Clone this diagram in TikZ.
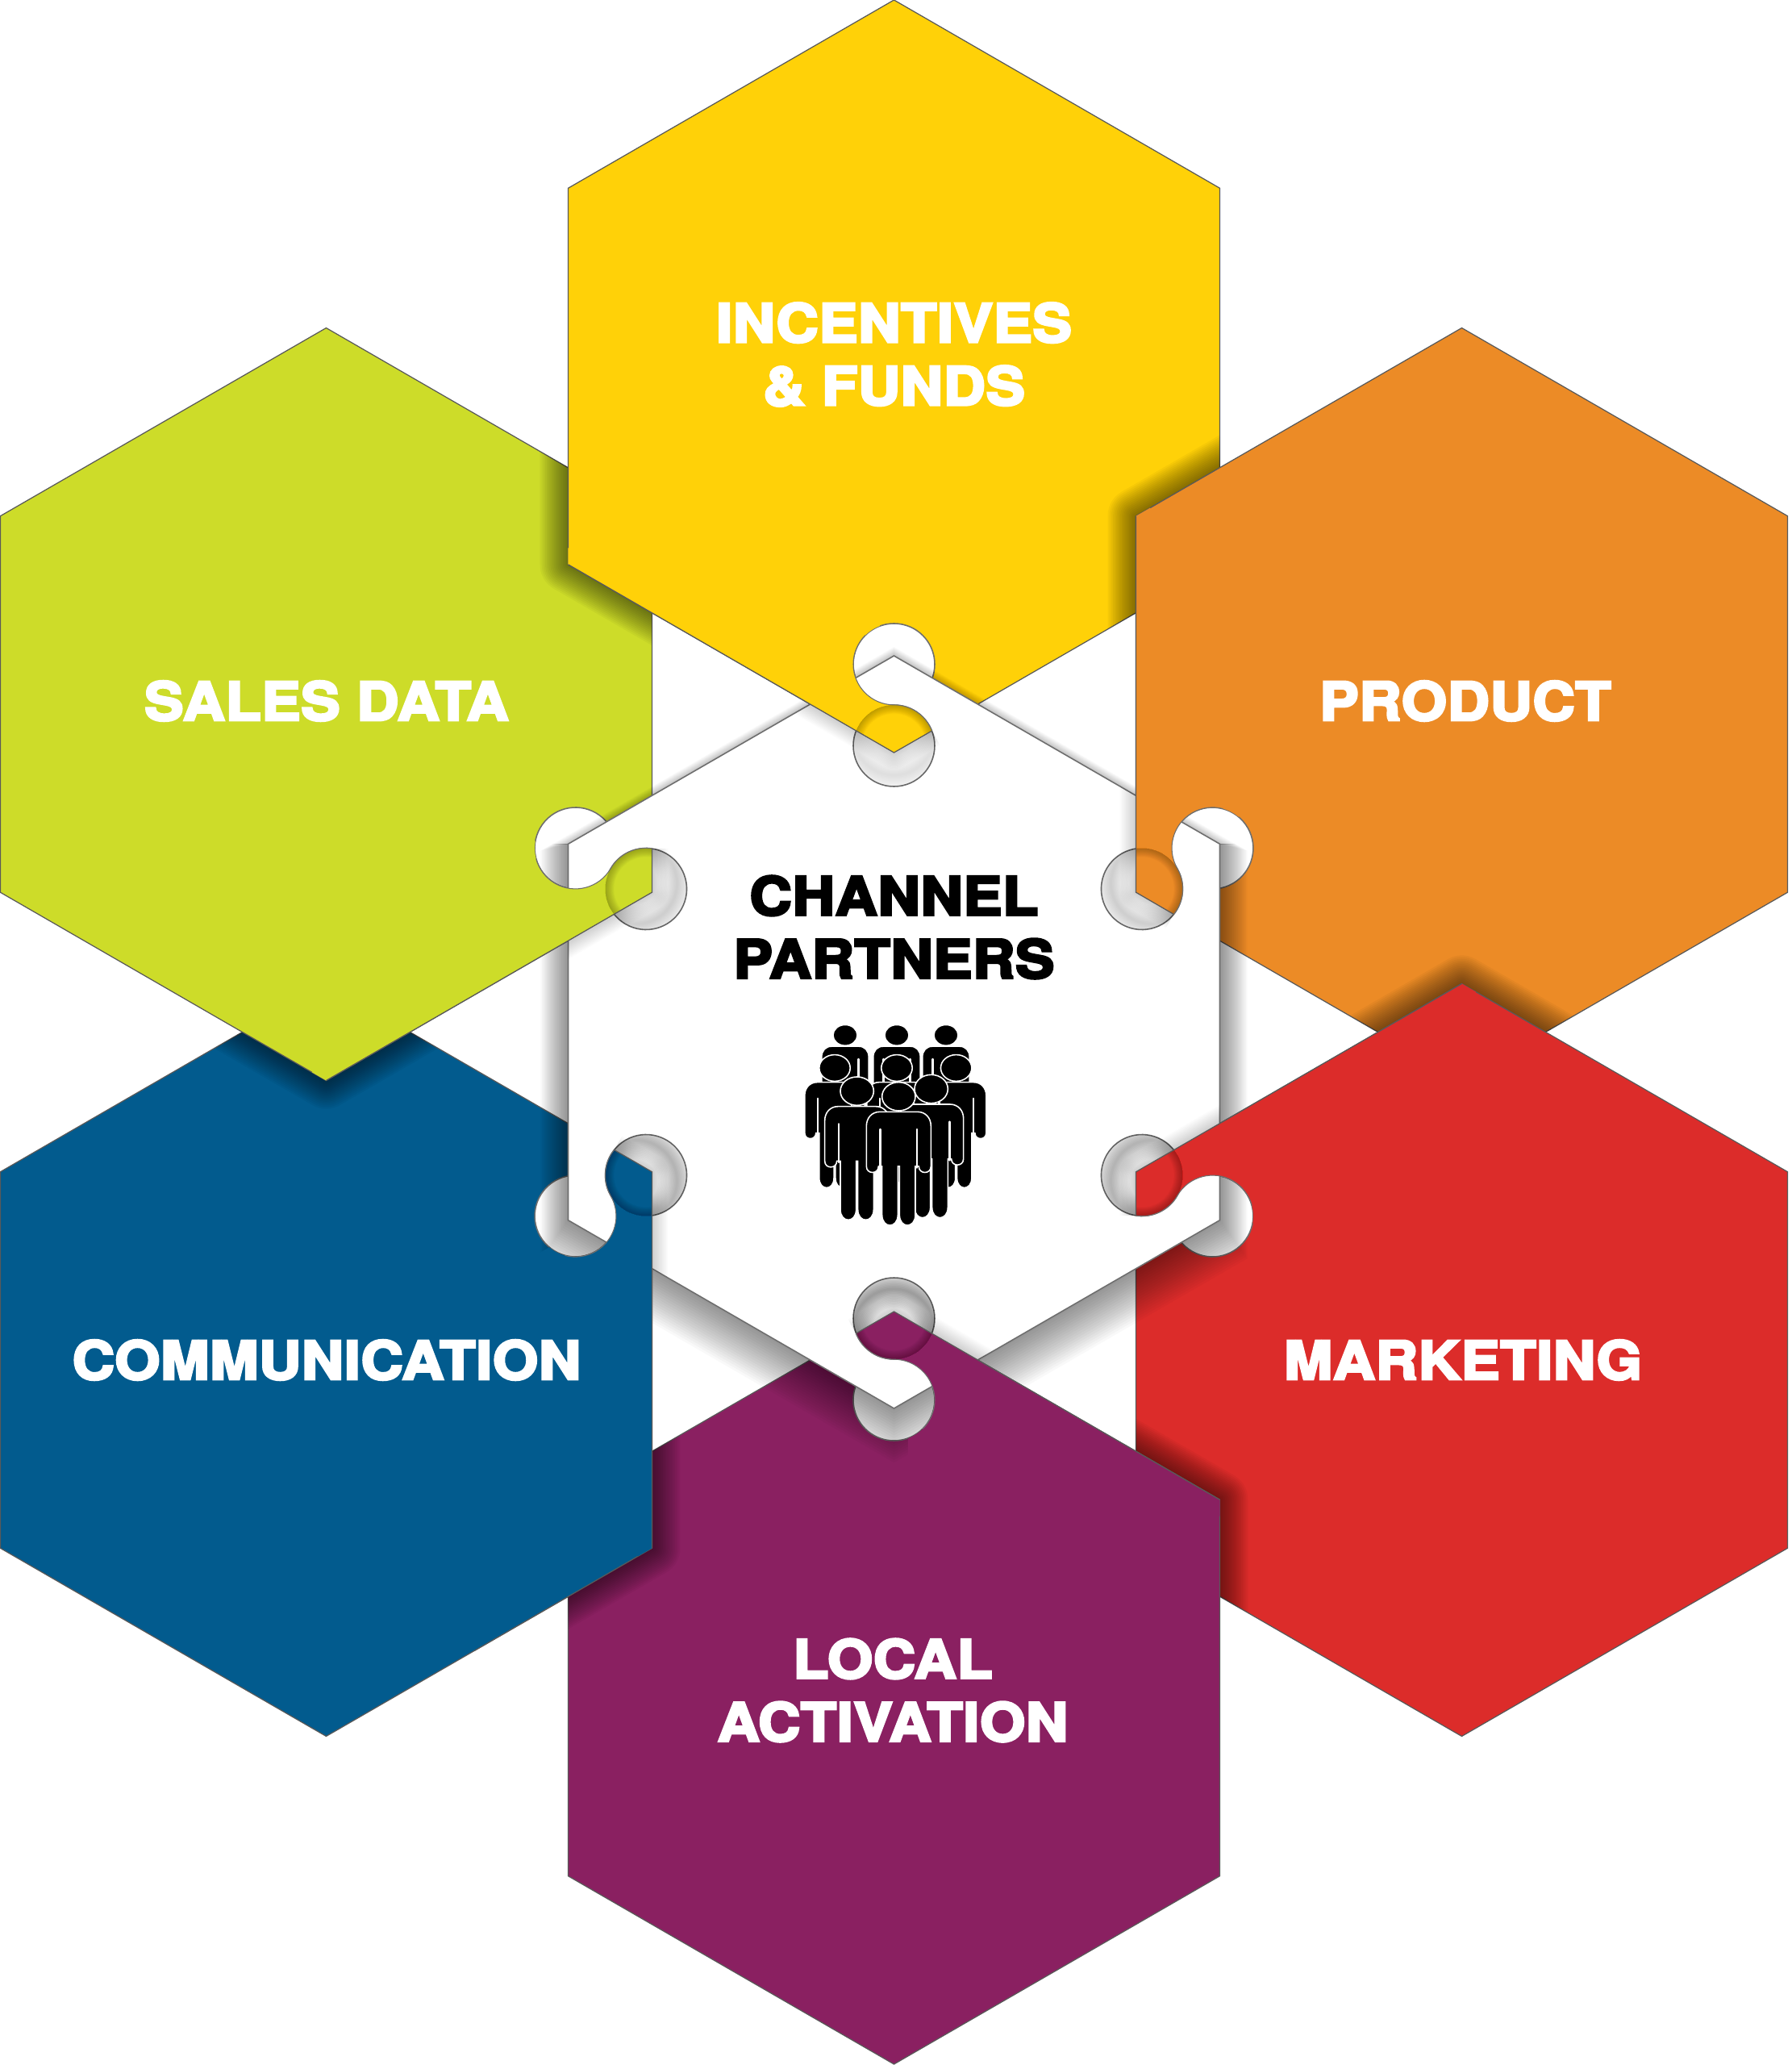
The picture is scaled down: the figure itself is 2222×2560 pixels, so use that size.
\documentclass[tikz,border=0pt]{standalone}
\usepackage{fontspec}
\newfontfamily\hvy[BoldFeatures={FakeBold=4.6,FakeStretch=1.1,LetterSpace=1.0}]{TeX Gyre Heros}
\definecolor{hexyellow}{HTML}{FFD108}
\definecolor{hexorange}{HTML}{EC8B26}
\definecolor{hexred}{HTML}{DC2C2A}
\definecolor{hexpurple}{HTML}{8A2061}
\definecolor{hexblue}{HTML}{025B8E}
\definecolor{hexgreen}{HTML}{CDDC29}
\definecolor{edgegray}{HTML}{6E6E6E}
\def\ohex{(0,1279.5)--(404,1046.2)--(404,579.7)--(0,346.5)--(-404,579.7)--(-404,1046.2)--cycle}
\def\chex{(0,466.5)--(404,233.2)--(404,-233.2)--(0,-466.5)--(-404,-233.2)--(-404,233.2)--cycle}
\def\outerhole{(0,456) circle[radius=50.5]}
\def\innerhole{(0,355) circle[radius=50.5]}
\def\tabpath{(0,346.5)--(47.05,373.5) arc[start angle=21.3,end angle=90,radius=50.5] arc[start angle=270,end angle=110,radius=50.5] --(-17.3,600)--(-404,600)--(-404,579.7)--cycle}
\def\tabedge{(-404,579.7)--(0,346.5)--(47.05,373.5)}
\def\tabarc{(47.05,373.5) arc[start angle=21.3,end angle=90,radius=50.5] arc[start angle=270,end angle=135,radius=50.5]}
\newcommand\softstroke[3]{\foreach \i in {1,...,16}{\draw[black,draw opacity=#2,line width=\i*#1/16*0.01cm,line join=round] #3;}}
\newcommand\ringhex[2]{%
  \begin{scope}[rotate=-60*(#1-1)]
    \clip \ohex;
    \begin{scope}[rotate=-60]\softstroke{70}{0.035}{\ohex}\end{scope}
  \end{scope}
  \begin{scope}[rotate=-60*#1]
    \filldraw[fill=#2,hexline] \ohex;
    \filldraw[fill=white,holeline] \outerhole;
  \end{scope}}
\newcommand\holeshade[3]{%
  \begin{scope}
    \clip \innerhole;
    \begin{scope}[shift={(0,#1)}]\softstroke{#3}{#2}{\innerhole}\end{scope}
  \end{scope}}
\newcommand\centershadow[1]{%
  \foreach \i in {1,...,20}{
    \begin{scope}[shift={(0,-\i*28/20)},scale=1+\i*34/20/404]
      \fill[black,fill opacity=#1] \chex;
    \end{scope}
  }}
\newcommand\person[3]{%
  \begin{scope}[shift={(#1,-#2)},scale=#3]
    \filldraw[personstyle] (0,0) ellipse[x radius=62,y radius=53];
    \filldraw[personstyle] (-120,-110) .. controls (-120,-80) and (-100,-57) .. (-70,-57) -- (70,-57)
      .. controls (100,-57) and (120,-80) .. (120,-110) -- (120,-260)
      .. controls (120,-290) and (75,-290) .. (75,-260) -- (62,-260) -- (62,-440)
      .. controls (62,-492) and (3,-492) .. (3,-440) -- (3,-260) -- (-3,-260) -- (-3,-440)
      .. controls (-3,-492) and (-62,-492) .. (-62,-440) -- (-62,-260) -- (-75,-260)
      .. controls (-75,-290) and (-120,-290) .. (-120,-260) -- cycle;
    \draw[slit] (-68,-122) -- (-68,-265);
    \draw[slit] (68,-122) -- (68,-265);
  \end{scope}}
\tikzset{
  hexline/.style={draw=black!65,line width=0.35pt},
  holeline/.style={draw=edgegray,line width=0.45pt},
  personstyle/.style={fill=black,draw=white,line width=0.45pt},
  slit/.style={draw=white,line width=0.7pt,line cap=round},
  whitelabel/.style={text=white,font=\hvy\bfseries\fontsize{18.7}{22.2}\selectfont,align=center,inner sep=0pt},
  blacklabel/.style={whitelabel,text=black}
}
\begin{document}
\begin{tikzpicture}[x=0.01cm,y=0.01cm]
\useasboundingbox (-1108.5,-1280.5) rectangle (1113.5,1279.5);
\fill[white] (-1108.5,-1280.5) rectangle (1113.5,1279.5);
\begin{scope}[rotate=-240]
  \filldraw[fill=hexblue,hexline] \ohex;
  \filldraw[fill=white,holeline] \outerhole;
\end{scope}
\ringhex{5}{hexgreen}
\ringhex{0}{hexyellow}
\ringhex{1}{hexorange}
\ringhex{2}{hexred}
\ringhex{3}{hexpurple}
\begin{scope}[rotate=-180]
  \clip \ohex;
  \begin{scope}[rotate=-60]\softstroke{70}{0.035}{\ohex}\end{scope}
\end{scope}
\begin{scope}
  \clip (-520,-800) rectangle (-290,-520);
  \begin{scope}[rotate=-240]
    \filldraw[fill=hexblue,hexline] \ohex;
  \end{scope}
\end{scope}
% shadow of the central piece: lighter along its two upper edges
\begin{scope}
  \clip (-600,233.2) rectangle (600,600);
  \centershadow{0.011}
\end{scope}
\begin{scope}
  \clip (-600,233.2) rectangle (600,-600);
  \centershadow{0.024}
\end{scope}
\filldraw[fill=white,draw=edgegray,line width=0.45pt] \chex;
\foreach \k/\col/\op in {0/hexyellow/0.008,1/hexorange/0.01,2/hexred/0.018,3/hexpurple/0.026,4/hexblue/0.02,5/hexgreen/0.01}{
  \begin{scope}[rotate=-60*\k]
    \filldraw[fill=white,holeline] \innerhole;
    \holeshade{14}{\op}{46}
    \begin{scope}
      \clip \chex;
      \softstroke{40}{0.012}{\tabedge}
    \end{scope}
    \fill[\col] \tabpath;
    \begin{scope}
      \clip \tabpath;
      \holeshade{0}{0.014}{22}
    \end{scope}
    \draw[hexline] \tabedge;
    \draw[holeline,line width=0.3pt] \tabarc;
  \end{scope}
}
\begin{scope}[shift={(-148.5,39.5)},scale=1/3]
  \person{264}{130}{0.73}
  \person{456}{130}{0.73}
  \person{639}{130}{0.73}
  \person{225}{252}{0.93}
  \person{677}{252}{0.93}
  \person{456}{252}{0.93}
  \person{308}{338}{1}
  \person{584}{330}{1}
  \person{463}{358}{1}
\end{scope}
\node[whitelabel] (incentives) at (0,840) {INCENTIVES\\\& FUNDS};
\node[whitelabel] (sales) at (-703.5,410.5) {SALES DATA};
\node[whitelabel] (product) at (708.5,410.5) {PRODUCT};
\node[whitelabel] (communication) at (-703.5,-406.5) {COMMUNICATION};
\node[whitelabel] (marketing) at (705.5,-406.5) {MARKETING};
\node[whitelabel] (local) at (-1.5,-816) {LOCAL\\ACTIVATION};
\node[blacklabel] (channel) at (0,130) {CHANNEL\\PARTNERS};
\end{tikzpicture}
\end{document}
